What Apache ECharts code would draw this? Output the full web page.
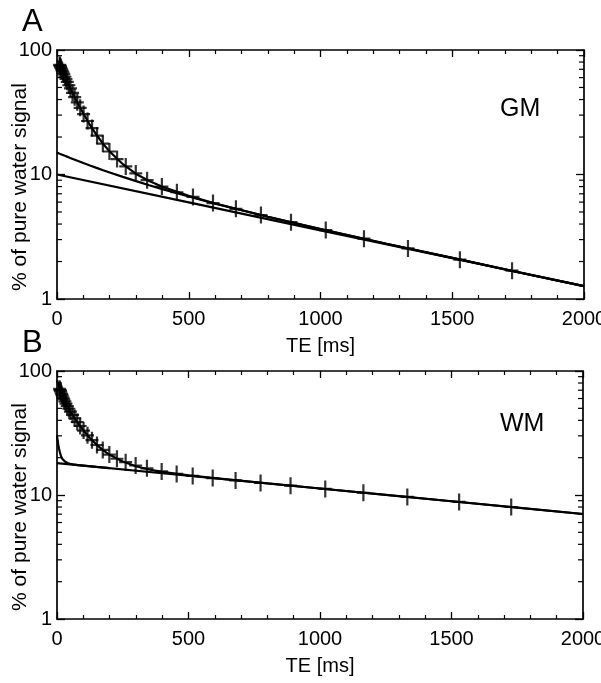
<!DOCTYPE html>
<html>
<head>
<meta charset="utf-8">
<script src="https://cdn.jsdelivr.net/npm/echarts@6.0.0/dist/echarts.min.js"></script>
<style>
html,body{margin:0;padding:0;background:#fff;}
#chart{width:601px;height:683px;}
</style>
</head>
<body>
<div id="chart"></div>
<script>
// ---- data ----
const teData = [10, 11.5, 13, 15, 17.5, 20, 23, 26, 30, 34, 39, 45, 51, 59, 67, 77, 88, 101, 116, 133, 152, 174, 199, 228, 261, 299, 342, 398, 455, 516, 592, 679, 774, 888, 1020, 1165, 1332, 1529, 1727];
const gmSignal = [76.0, 74.8, 73.5, 71.9, 69.9, 68.0, 65.8, 63.7, 61.0, 58.5, 55.5, 52.1, 49.1, 45.3, 41.8, 38.0, 34.3, 30.6, 26.9, 23.6, 20.5, 17.7, 15.3, 13.3, 11.6, 10.2, 9.0, 8.0, 7.2, 6.6, 5.9, 5.3, 4.73, 4.14, 3.58, 3.05, 2.55, 2.07, 1.69];
const wmSignal = [71.8, 70.3, 69.0, 67.1, 65.1, 63.2, 61.1, 59.2, 56.8, 54.6, 52.2, 49.6, 47.1, 44.3, 41.6, 38.8, 36.0, 33.1, 30.3, 27.7, 25.3, 23.1, 21.2, 19.6, 18.4, 17.3, 16.4, 15.5, 14.8, 14.25, 13.7, 13.1, 12.5, 11.9, 11.2, 10.43, 9.64, 8.8, 8.0];

const teFit = [0, 10, 20, 30, 40, 50, 60, 80, 100, 125, 150, 175, 200, 250, 300, 350, 400, 500, 600, 800, 1000, 1250, 1500, 1750, 2000];
const gmFitTotal = [83, 76.0, 68.0, 61.0, 54.9, 49.5, 44.8, 36.9, 30.9, 25.0, 20.8, 17.6, 15.3, 12.1, 10.1, 8.86, 7.97, 6.74, 5.85, 4.58, 3.65, 2.78, 2.14, 1.64, 1.27];
const gmFitMid = [15, 14.7, 14.41, 14.12, 13.86, 13.59, 13.33, 12.84, 12.37, 11.82, 11.31, 10.83, 10.39, 9.57, 8.85, 8.20, 7.63, 6.65, 5.83, 4.58, 3.65, 2.78, 2.14, 1.64, 1.27];
const wmFitTotal = [84, 71.8, 63.2, 56.8, 51.8, 47.6, 43.9, 37.9, 33.3, 28.8, 25.5, 23.0, 21.1, 18.6, 17.05, 16.06, 15.37, 14.40, 13.66, 12.40, 11.28, 10.02, 8.90, 7.91, 7.03];

const teSlow = [0, 500, 1000, 1500, 2000];
const gmFitSlow = [10, 5.97, 3.56, 2.13, 1.27];
const wmFitSlow = [18.1, 14.29, 11.28, 8.90, 7.03];

const teFast = [0, 2.5, 5, 7.5, 10, 15, 20, 25, 30, 40, 50, 60, 80, 100, 150, 200];
const wmFitFast = [30.1, 27.5, 25.3, 23.7, 22.5, 20.6, 19.6, 19.0, 18.6, 18.1, 17.85, 17.68, 17.43, 17.27, 16.86, 16.48];

const xTicks = [0, 500, 1000, 1500, 2000];
const yTicks = [1, 10, 100];
const logMinor = [2, 3, 4, 5, 6, 7, 8, 9, 20, 30, 40, 50, 60, 70, 80, 90];
const yName = '% of pure water signal';
const xName = 'TE [ms]';

// ---- build ----
const pairs = (xs, ys) => xs.map((x, i) => [x, ys[i]]);
const FONT = 'Liberation Sans, Arial, Helvetica, sans-serif';
const plusPath = 'path://M-1.1,-8.5L1.1,-8.5L1.1,-1.1L6.5,-1.1L6.5,1.1L1.1,1.1L1.1,8.5L-1.1,8.5L-1.1,1.1L-6.5,1.1L-6.5,-1.1L-1.1,-1.1Z';

const chart = echarts.init(document.getElementById('chart'), null, {renderer: 'canvas'});

function xAxisPair(gi) {
  const common = {
    gridIndex: gi, type: 'value', min: xTicks[0], max: xTicks[xTicks.length - 1], interval: xTicks[1] - xTicks[0],
    splitLine: {show: false},
    axisLine: {show: true, onZero: false, lineStyle: {color: '#000', width: 1.7}},
    axisTick: {show: true, inside: true, length: 7, lineStyle: {color: '#000', width: 1.3}},
    minorTick: {show: true, splitNumber: 5, length: 4, lineStyle: {color: '#000', width: 1.2}},
    minorSplitLine: {show: false}
  };
  return [
    Object.assign({}, common, {
      position: 'bottom',
      axisLabel: {show: true, color: '#000', fontSize: 20, fontFamily: FONT, margin: 10,
        formatter: v => String(v)},
      name: xName, nameLocation: 'middle', nameGap: 37,
      nameTextStyle: {color: '#000', fontSize: 20, fontFamily: FONT}
    }),
    Object.assign({}, common, {position: 'top', axisLabel: {show: false}})
  ];
}
function yAxisPair(gi) {
  const common = {
    gridIndex: gi, type: 'log', logBase: 10, min: yTicks[0], max: yTicks[yTicks.length - 1],
    splitLine: {show: false},
    axisLine: {show: true, onZero: false, lineStyle: {color: '#000', width: 1.7}},
    axisTick: {show: true, inside: true, length: 8, lineStyle: {color: '#000', width: 1.3}}
  };
  return [
    Object.assign({}, common, {
      position: 'left',
      axisLabel: {show: true, color: '#000', fontSize: 20, fontFamily: FONT, margin: 5,
        formatter: v => String(v)}
    }),
    Object.assign({}, common, {position: 'right', axisLabel: {show: false}})
  ];
}

function lineSeries(xi, yi, xs, ys) {
  return {
    type: 'line', xAxisIndex: xi, yAxisIndex: yi, data: pairs(xs, ys),
    showSymbol: false, symbol: 'none', smooth: false, silent: true,
    lineStyle: {color: '#000', width: 2.2}, z: 3
  };
}
function dataSeries(xi, yi, ys) {
  return {
    type: 'scatter', xAxisIndex: xi, yAxisIndex: yi, data: pairs(teData, ys),
    symbol: plusPath, symbolSize: [13, 17], itemStyle: {color: '#000'}, silent: true, z: 4, clip: false
  };
}
function minorTickSeries(xi, yi) {
  return {
    type: 'custom', xAxisIndex: xi, yAxisIndex: yi, silent: true, z: 5, clip: false,
    data: logMinor.map(v => [xTicks[0], v]),
    renderItem: function (params, api) {
      const cs = params.coordSys;
      const y = api.coord([xTicks[0], api.value(1)])[1];
      const st = {stroke: '#000', lineWidth: 1.2};
      return {
        type: 'group', children: [
          {type: 'line', shape: {x1: cs.x, y1: y, x2: cs.x + 5, y2: y}, style: st},
          {type: 'line', shape: {x1: cs.x + cs.width - 5, y1: y, x2: cs.x + cs.width, y2: y}, style: st}
        ]
      };
    }
  };
}

const xA = xAxisPair(0), xB = xAxisPair(1);
const yA = yAxisPair(0), yB = yAxisPair(1);

const option = {
  backgroundColor: '#fff',
  animation: false,
  textStyle: {fontFamily: FONT},
  grid: [
    {left: 57, top: 50, width: 527, height: 249, containLabel: false, outerBoundsMode: 'none'},
    {left: 57, top: 371, width: 526, height: 248, containLabel: false, outerBoundsMode: 'none'}
  ],
  xAxis: [xA[0], xA[1], xB[0], xB[1]],
  yAxis: [yA[0], yA[1], yB[0], yB[1]],
  series: [
    lineSeries(0, 0, teFit, gmFitTotal),
    lineSeries(0, 0, teFit, gmFitMid),
    lineSeries(0, 0, teSlow, gmFitSlow),
    dataSeries(0, 0, gmSignal),
    minorTickSeries(0, 0),
    lineSeries(2, 2, teFit, wmFitTotal),
    lineSeries(2, 2, teFast, wmFitFast),
    lineSeries(2, 2, teSlow, wmFitSlow),
    dataSeries(2, 2, wmSignal),
    minorTickSeries(2, 2)
  ],
  graphic: [
    {type: 'text', left: 22, top: 7, style: {text: 'A', fontSize: 31, fontFamily: FONT, fill: '#000'}},
    {type: 'text', left: 22, top: 328, style: {text: 'B', fontSize: 31, fontFamily: FONT, fill: '#000'}},
    {type: 'text', left: 500, top: 97, style: {text: 'GM', fontSize: 25, fontFamily: FONT, fill: '#000'}},
    {type: 'text', left: 500, top: 412, style: {text: 'WM', fontSize: 25, fontFamily: FONT, fill: '#000'}},
    {type: 'text', x: 20, y: 187, rotation: Math.PI / 2,
      style: {text: yName, fontSize: 21, fontFamily: FONT, fill: '#000', align: 'center', verticalAlign: 'middle'}},
    {type: 'text', x: 20, y: 507, rotation: Math.PI / 2,
      style: {text: yName, fontSize: 21, fontFamily: FONT, fill: '#000', align: 'center', verticalAlign: 'middle'}}
  ]
};
chart.setOption(option);
</script>
</body>
</html>
